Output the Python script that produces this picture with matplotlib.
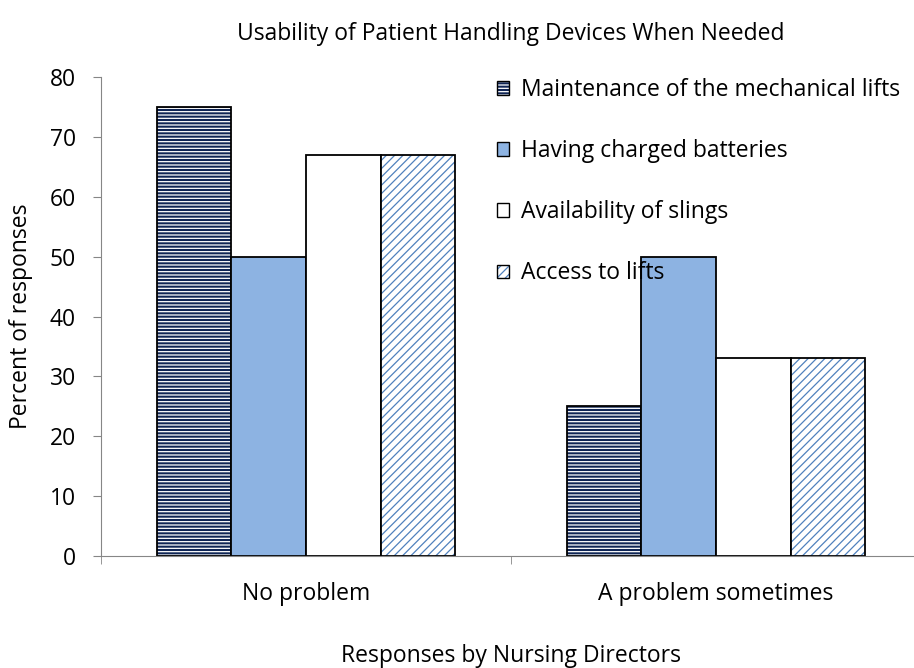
import matplotlib.pyplot as plt
from matplotlib.patches import Patch
import numpy as np

plt.rcParams['font.family'] = ['Open Sans', 'DejaVu Sans']
plt.rcParams['hatch.linewidth'] = 0.9

# veri
kategoriler = ["No problem", "A problem sometimes"]
seriler = ["Maintenance of the mechanical lifts", "Having charged batteries",
           "Availability of slings", "Access to lifts"]
bakim = [75, 25]
batarya = [50, 50]
askilar = [67, 33]
erisim = [67, 33]
degerler = [bakim, batarya, askilar, erisim]

# stiller (yuz rengi, tarama rengi, tarama)
stiller = [("#0E2455", "white", "-----"),
           ("#8DB3E2", None, None),
           ("white", None, None),
           ("white", "#4F81BD", "////")]

fig = plt.figure(figsize=(9.14, 6.68), dpi=100)
ax = fig.add_axes([101/914, 1-556/668, 820/914, 479/668])

x = np.arange(len(kategoriler))
w = 0.182
fs = 16.5
handles = []
for i, (vals, (fc, hc, h)) in enumerate(zip(degerler, stiller)):
    pos = x + (i - 1.5) * w
    if h:
        ax.bar(pos, vals, w, color=fc, edgecolor=hc, hatch=h, linewidth=0)
        ax.bar(pos, vals, w, fill=False, edgecolor="black", linewidth=1.3)
        hnd = (Patch(facecolor=fc, edgecolor=hc, hatch=h, linewidth=0),
               Patch(fill=False, edgecolor="black", linewidth=1.0))
    else:
        ax.bar(pos, vals, w, color=fc, edgecolor="black", linewidth=1.3)
        hnd = Patch(facecolor=fc, edgecolor="black", linewidth=1.0)
    handles.append(hnd)

ax.set_xlim(-0.5, 1.5)
ax.set_ylim(0, 80)
ax.set_yticks(range(0, 81, 10))
ax.set_xticks(x)
ax.set_xticklabels(kategoriler)
ax.set_xticks([-0.5, 0.5, 1.5], minor=True)
ax.tick_params(axis="x", which="major", length=0, pad=19, labelsize=fs)
ax.tick_params(axis="x", which="minor", length=6, color="#868686")
ax.tick_params(axis="y", length=6, color="#868686", labelsize=fs, pad=12)

for s in ["top", "right"]:
    ax.spines[s].set_visible(False)
for s in ["left", "bottom"]:
    ax.spines[s].set_color("#868686")

ax.set_title("Usability of Patient Handling Devices When Needed",
             fontsize=fs, pad=27)
ax.set_ylabel("Percent of responses", fontsize=fs)
ax.yaxis.set_label_coords(-0.083, 0.5)
ax.set_xlabel("Responses by Nursing Directors", fontsize=fs, labelpad=27)

ax.legend(handles, seriler, loc="upper left", bbox_to_anchor=(0.458, 1.041),
          frameon=False, fontsize=fs, handlelength=0.52, handleheight=0.52,
          handletextpad=0.5, labelspacing=1.62)

fig.savefig("out.png", dpi=100)
